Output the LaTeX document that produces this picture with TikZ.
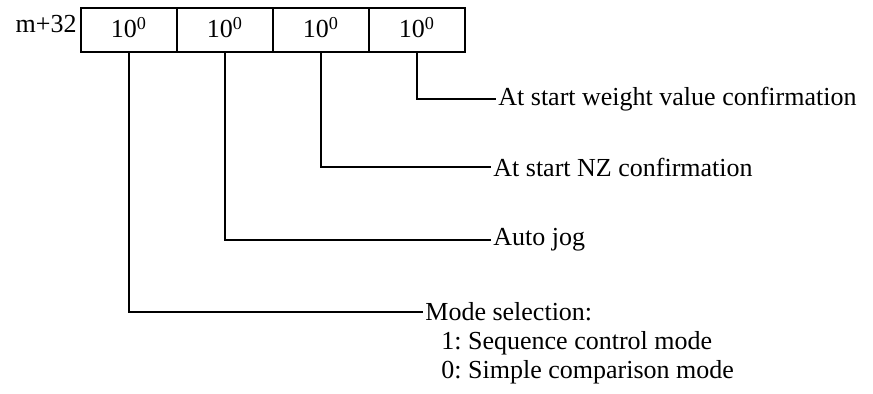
\documentclass[tikz,border=0pt]{standalone}
\usepackage{fontspec}
\setmainfont{Liberation Serif}
\usetikzlibrary{positioning}
\frenchspacing
\newcommand{\bitval}{\raisebox{2.5pt}{10\textsuperscript{0}}}

\begin{document}
\begin{tikzpicture}[
  x=0.5pt, y=-0.5pt,
  font=\fontsize{13}{15}\selectfont,
  bitcell/.style={rectangle, draw=black, line width=0.8pt, outer sep=0pt,
                  minimum width=48pt, minimum height=22pt, inner sep=0pt},
  leader/.style={draw=black, line width=0.9pt},
  desc/.style={anchor=west, inner sep=1pt},
]
\useasboundingbox (0,0) rectangle (873,394);

% ── Register word ──────────────────────────────────────────────────
\node[bitcell] (b1) at (129,30) {\bitval};
\node[bitcell, right=0pt of b1] (b2) {\bitval};
\node[bitcell, right=0pt of b2] (b3) {\bitval};
\node[bitcell, right=0pt of b3] (b4) {\bitval};
\node[anchor=east, inner sep=2pt] (addr) at ([yshift=3pt]b1.west) {m+32};

% ── Descriptions ───────────────────────────────────────────────────
\node[desc] (wtconf) at (496,99)  {At start weight value confirmation};
\node[desc] (nzconf) at (491,167) {At start NZ confirmation};
\node[desc] (jog)    at (491,240) {Auto jog};
\node[desc] (mode)   at (423,312) {Mode selection:};
\node[desc, anchor=north west] (seqmode) at ([xshift=8pt, yshift=-2.5pt]mode.south west) {1: Sequence control mode};
\node[desc, anchor=north west] (cmpmode) at ([yshift=-0.5pt]seqmode.south west) {0: Simple comparison mode};

% ── Leaders (one right angle each) ─────────────────────────────────
\draw[leader] (b4.south) |- (wtconf.west);
\draw[leader] (b3.south) |- (nzconf.west);
\draw[leader] (b2.south) |- (jog.west);
\draw[leader] (b1.south) |- (mode.west);

\end{tikzpicture}
\end{document}
